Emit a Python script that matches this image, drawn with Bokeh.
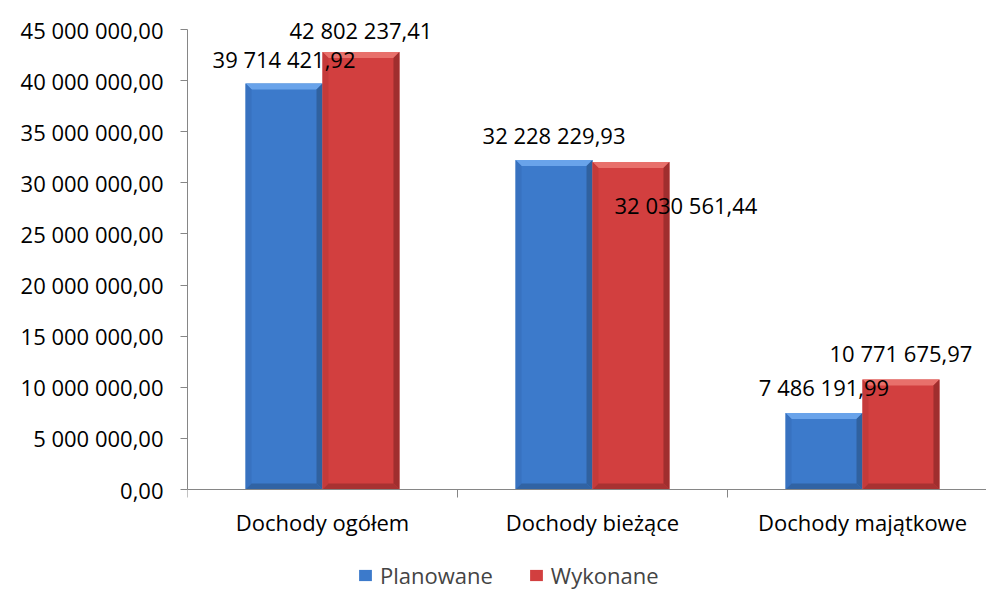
from bokeh.plotting import figure
from bokeh.models import Range1d, FixedTicker, Legend, LegendItem, ColumnDataSource
from bokeh.core.properties import value
from bokeh.embed import file_html
from bokeh.resources import INLINE

categories = ["Dochody ogółem", "Dochody bieżące", "Dochody majątkowe"]
series_names = ["Planowane", "Wykonane"]
planowane = [39714421.92, 32228229.93, 7486191.99]
wykonane = [42802237.41, 32030561.44, 10771675.97]
y_ticks = [0, 5e6, 10e6, 15e6, 20e6, 25e6, 30e6, 35e6, 40e6, 45e6]

FONT = "Open Sans"
FS = "22px"


def fmt_pl(v):
    s = f"{v:,.2f}"
    return s.replace(",", " ").replace(".", ",")


W, H = 986, 590
LEFT = 187
AXIS_TOP_PX = 29        # pixel row of the highest tick
ZERO_PX = 489           # pixel row of the zero line
CAT_PX = 270.0
x_end = (W - LEFT) / CAT_PX
px_per_unit = (ZERO_PX - AXIS_TOP_PX) / y_ticks[-1]
y_end = y_ticks[-1] + AXIS_TOP_PX / px_per_unit
y_start = -(H - ZERO_PX) / px_per_unit

p = figure(width=W, height=H, output_backend="svg", toolbar_location=None,
           x_range=Range1d(0, x_end), y_range=Range1d(y_start, y_end),
           min_border_left=LEFT, min_border_top=0, min_border_bottom=0,
           min_border_right=0)
p.outline_line_color = None
p.xgrid.visible = False
p.ygrid.visible = False
p.background_fill_color = "white"
p.border_fill_color = "white"

AX = "#868686"
# y axis
p.yaxis.bounds = (0, y_ticks[-1])
p.yaxis.ticker = FixedTicker(ticks=y_ticks, minor_ticks=[])
p.yaxis.major_label_overrides = {t: fmt_pl(t) for t in y_ticks}
p.yaxis.axis_line_color = AX
p.yaxis.major_tick_line_color = AX
p.yaxis.major_tick_out = 7
p.yaxis.major_tick_in = 0
p.yaxis.minor_tick_line_color = None
p.yaxis.major_label_standoff = 17
p.yaxis.major_label_text_font = FONT
p.yaxis.major_label_text_font_size = FS
p.yaxis.major_label_text_color = "black"

# x axis, fixed at the zero line
centers = [i + 0.5 for i in range(len(categories))]
bounds = [float(i) for i in range(len(categories) + 1)]
p.xaxis.fixed_location = 0
p.xaxis.ticker = FixedTicker(ticks=centers, minor_ticks=bounds)
p.xaxis.major_label_overrides = {c: n for c, n in zip(centers, categories)}
p.xaxis.axis_line_color = AX
p.xaxis.major_tick_line_color = None
p.xaxis.minor_tick_line_color = AX
p.xaxis.minor_tick_out = 8
p.xaxis.minor_tick_in = 0
p.xaxis.major_label_standoff = 9
p.xaxis.major_label_text_font = FONT
p.xaxis.major_label_text_font_size = FS
p.xaxis.major_label_text_color = "black"

BW = 0.285
dodge = BW / 2
dx = 6 / CAT_PX
dy = 6 / px_per_unit

styles = [
    dict(main="#3c7acb", top="#69a3ea", right="#30619f", left="#3872c0", bottom="#3163a4"),
    dict(main="#d23f3f", top="#e8706b", right="#a02e2e", left="#c53a3a", bottom="#a83232"),
]

renderers = []
for si, (vals, st) in enumerate(zip([planowane, wykonane], styles)):
    xs = [c + (-dodge if si == 0 else dodge) for c in centers]
    src = ColumnDataSource(dict(x=xs, top=vals))
    r = p.vbar(x="x", top="top", width=BW, source=src, fill_color=st["main"], line_color=None)
    renderers.append(r)
    tops_x, tops_y, rx, ry, lx, ly, bx, by = [], [], [], [], [], [], [], []
    for x, v in zip(xs, vals):
        x0, x1 = x - BW / 2, x + BW / 2
        tops_x.append([x0, x1, x1 - dx, x0 + dx]); tops_y.append([v, v, v - dy, v - dy])
        rx.append([x1, x1, x1 - dx, x1 - dx]); ry.append([v, 0, dy, v - dy])
        lx.append([x0, x0 + dx, x0 + dx, x0]); ly.append([v, v - dy, dy, 0])
        bx.append([x0, x1, x1 - dx, x0 + dx]); by.append([0, 0, dy, dy])
    p.patches(tops_x, tops_y, fill_color=st["top"], line_color=None)
    p.patches(rx, ry, fill_color=st["right"], line_color=None)
    p.patches(lx, ly, fill_color=st["left"], line_color=None)
    p.patches(bx, by, fill_color=st["bottom"], line_color=None)

# data labels (nudges in screen px)
label_nudge_x = [[0, 0, 0], [0, 55, 0]]
label_nudge_y = [[-25, -25, -26], [-22, 43, -26]]
for si, vals in enumerate([planowane, wykonane]):
    for i, v in enumerate(vals):
        x = centers[i] + (-dodge if si == 0 else dodge)
        p.text(x=[x], y=[v], text=[fmt_pl(v)], text_align="center", text_baseline="middle",
               x_offset=label_nudge_x[si][i], y_offset=label_nudge_y[si][i],
               text_font=value(FONT), text_font_size=FS, text_color="black")

legend = Legend(items=[LegendItem(label=n, renderers=[r]) for n, r in zip(series_names, renderers)],
                orientation="horizontal", location=(170, 0), padding=0, margin=0,
                spacing=35, label_standoff=7, glyph_width=16, glyph_height=14,
                label_text_font=FONT, label_text_font_size=FS, border_line_color=None,
                background_fill_alpha=0)
p.add_layout(legend, "center")

open("out.html", "w").write(file_html(p, INLINE))
